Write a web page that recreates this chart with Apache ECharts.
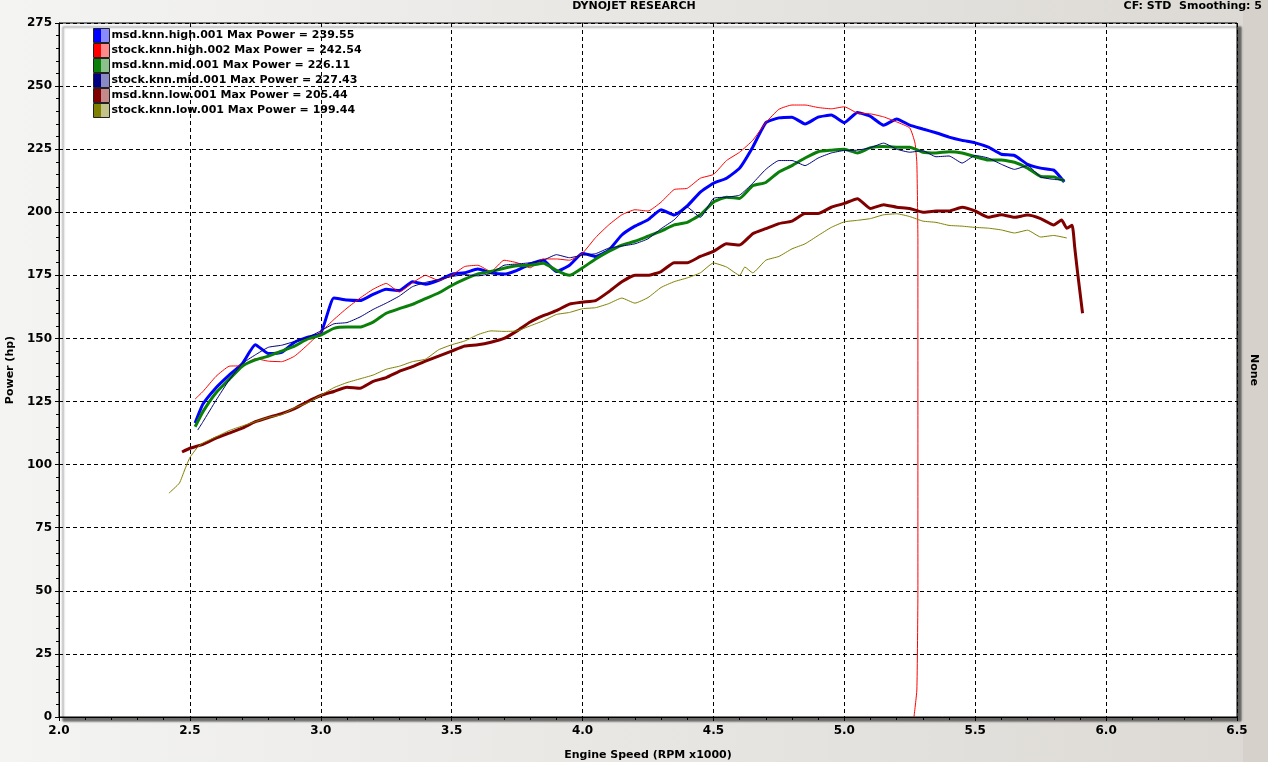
<!DOCTYPE html>
<html>
<head>
<meta charset="utf-8">
<script src="https://cdn.jsdelivr.net/npm/echarts@6/dist/echarts.min.js"></script>
<style>
html,body{margin:0;padding:0;width:1268px;height:762px;overflow:hidden;background:linear-gradient(to right,#f4f4f3,#dcd9d4);}
#chart{width:1268px;height:762px;}
</style>
</head>
<body>
<div id="chart"></div>
<script>
// ---- data (RPM x1000, hp) ----
const runNames = ['msd.knn.high.001','stock.knn.high.002','msd.knn.mid.001','stock.knn.mid.001','msd.knn.low.001','stock.knn.low.001'];
const maxPower = ['239.55','242.54','226.11','227.43','205.44','199.44'];

const msdHigh = [[2.52,116.5],[2.55,124],[2.6,130.5],[2.65,135.5],[2.7,140],[2.75,147.5],[2.8,144],[2.85,144.5],[2.9,148.5],[2.95,150.5],[3.0,152],[3.05,166],[3.1,165.2],[3.15,165],[3.2,167.5],[3.25,169.5],[3.3,169],[3.35,172.5],[3.4,171.5],[3.45,173],[3.5,175.5],[3.55,176],[3.6,177.5],[3.65,176],[3.7,175.5],[3.75,177],[3.8,179.5],[3.85,181],[3.9,176.5],[3.95,179],[4.0,183.8],[4.05,182.5],[4.1,185],[4.15,191],[4.2,194.5],[4.25,197],[4.3,201],[4.35,198.9],[4.4,202.5],[4.45,208],[4.5,211.5],[4.55,213.5],[4.6,217.5],[4.65,225.8],[4.7,235.5],[4.75,237.4],[4.8,237.7],[4.85,235],[4.9,237.7],[4.95,238.5],[5.0,235.5],[5.05,239.5],[5.1,238],[5.15,234.5],[5.2,237],[5.25,234.5],[5.3,233],[5.35,231.5],[5.4,229.8],[5.45,228.5],[5.5,227.5],[5.55,225.8],[5.6,223],[5.65,222.5],[5.7,219],[5.75,217.5],[5.8,216.7],[5.84,212]];

const stockHigh = [[2.52,126],[2.55,129],[2.6,135],[2.65,139],[2.7,139.2],[2.75,142],[2.8,141],[2.85,140.8],[2.9,143],[2.95,147.5],[3.0,152.5],[3.05,157.5],[3.1,162],[3.15,166],[3.2,169.5],[3.25,171.8],[3.3,168.4],[3.35,172],[3.4,175],[3.45,173],[3.5,175],[3.55,178.5],[3.6,179],[3.65,176.5],[3.7,181],[3.75,180],[3.8,178],[3.85,181.5],[3.9,181.5],[3.95,181],[4.0,183.8],[4.05,190],[4.1,195],[4.15,199],[4.2,201],[4.25,200.5],[4.3,204],[4.35,209],[4.4,209.5],[4.45,213.5],[4.5,215],[4.55,220.5],[4.6,223.8],[4.65,228.5],[4.7,235.5],[4.75,240.8],[4.8,242.5],[4.85,242.5],[4.9,241.5],[4.95,241],[5.0,241.8],[5.05,239.3],[5.1,239],[5.15,237.8],[5.2,235.8],[5.25,233.4],[5.27,227.4],[5.277,219.5],[5.281,189],[5.281,50],[5.277,10.7],[5.266,0]];

const msdMid = [[2.52,115],[2.55,121],[2.6,128.5],[2.65,133.8],[2.7,139],[2.75,141.5],[2.8,143],[2.85,145],[2.9,147],[2.95,149.8],[3.0,151.3],[3.05,154],[3.1,154.5],[3.15,154.5],[3.2,156.5],[3.25,160],[3.3,161.8],[3.35,163.5],[3.4,165.8],[3.45,168],[3.5,171],[3.55,173.5],[3.6,175.6],[3.65,176.5],[3.7,177.8],[3.75,178.8],[3.8,179],[3.85,179.8],[3.9,177],[3.95,175],[4.0,178],[4.05,181.5],[4.1,184.5],[4.15,187],[4.2,188.5],[4.25,190.5],[4.3,192.5],[4.35,195],[4.4,196],[4.45,199],[4.5,204],[4.55,206],[4.6,205.5],[4.65,210.5],[4.7,211.8],[4.75,216],[4.8,218.5],[4.85,221.5],[4.9,224],[4.95,224.6],[5.0,225],[5.05,223.5],[5.1,225.6],[5.15,226.1],[5.2,225.8],[5.25,225.8],[5.3,223.8],[5.35,223.5],[5.4,224],[5.45,223.5],[5.5,222],[5.55,220.7],[5.6,220.7],[5.65,219.8],[5.7,217.5],[5.75,214.2],[5.8,214],[5.84,212.5]];

const stockMid = [[2.53,113.7],[2.55,117],[2.6,125.5],[2.65,133.5],[2.7,140],[2.75,143.5],[2.8,146.5],[2.85,147.3],[2.9,148.8],[2.95,150.4],[3.0,153],[3.05,155.8],[3.1,156.3],[3.15,158.5],[3.2,161.5],[3.25,164],[3.3,166.8],[3.35,170.5],[3.4,172.2],[3.45,173.3],[3.5,174.5],[3.55,175.3],[3.6,174.8],[3.65,175.8],[3.7,179],[3.75,179.5],[3.8,180],[3.85,181],[3.9,183.2],[3.95,182],[4.0,183],[4.05,183.6],[4.1,185.8],[4.15,186.6],[4.2,187.5],[4.25,189.5],[4.3,193.5],[4.35,197],[4.4,202],[4.45,198],[4.5,205.5],[4.55,206],[4.6,206.8],[4.65,211.5],[4.7,217],[4.75,220.5],[4.8,220.5],[4.85,218.5],[4.9,221.5],[4.95,223.5],[5.0,224.5],[5.05,224.6],[5.1,225.6],[5.15,227.4],[5.2,225],[5.25,223.8],[5.3,224.4],[5.35,222],[5.4,222.3],[5.45,219.5],[5.5,222.5],[5.55,221.5],[5.6,219],[5.65,217],[5.7,218.5],[5.75,214],[5.8,213],[5.84,212.8]];

const msdLow = [[2.47,105],[2.5,106.5],[2.55,108],[2.6,110.5],[2.65,112.5],[2.7,114.5],[2.75,117],[2.8,118.7],[2.85,120.2],[2.9,122.2],[2.95,125],[3.0,127.4],[3.05,129],[3.1,130.7],[3.15,130.3],[3.2,133],[3.25,134.5],[3.3,137],[3.35,138.8],[3.4,141],[3.45,143],[3.5,145],[3.55,147],[3.6,147.5],[3.65,148.5],[3.7,150],[3.75,153],[3.8,156.5],[3.85,159],[3.9,161],[3.95,163.6],[4.0,164.4],[4.05,165],[4.1,168.5],[4.15,172.5],[4.2,175],[4.25,175],[4.3,176.5],[4.35,180],[4.4,180],[4.45,182.5],[4.5,184.5],[4.55,187.5],[4.6,187],[4.65,191.5],[4.7,193.5],[4.75,195.5],[4.8,196.5],[4.85,199.5],[4.9,199.5],[4.95,202],[5.0,203.5],[5.05,205.4],[5.1,201.5],[5.15,203],[5.2,202],[5.25,201.5],[5.3,200],[5.35,200.5],[5.4,200.5],[5.45,202],[5.5,200.5],[5.55,198],[5.6,199],[5.65,198],[5.7,198.9],[5.75,197.5],[5.8,195],[5.83,196.9],[5.85,193.7],[5.87,194.9],[5.88,186.2],[5.89,177],[5.91,160]];

const stockLow = [[2.42,88.7],[2.46,92.7],[2.48,97.9],[2.5,102.8],[2.53,107],[2.55,108.6],[2.6,111],[2.65,113.5],[2.7,115.3],[2.75,117],[2.8,118.7],[2.85,119.8],[2.9,122.5],[2.95,124.5],[3.0,127.5],[3.05,130.5],[3.1,132.5],[3.15,134],[3.2,135.5],[3.25,137.8],[3.3,139],[3.35,140.8],[3.4,141.8],[3.45,145.5],[3.5,147.5],[3.55,149],[3.6,151.5],[3.65,153],[3.7,152.8],[3.75,153],[3.8,155],[3.85,157],[3.9,159.5],[3.95,160.3],[4.0,161.8],[4.05,162.2],[4.1,163.8],[4.15,166],[4.2,164],[4.25,166.2],[4.3,170.2],[4.35,172.5],[4.4,174],[4.45,176],[4.5,179.9],[4.55,178.3],[4.6,175],[4.62,178.3],[4.65,176],[4.7,181],[4.75,182.5],[4.8,185.5],[4.85,187.5],[4.9,190.8],[4.95,194],[5.0,196.2],[5.05,196.8],[5.1,197.5],[5.15,199],[5.2,199.4],[5.25,198.3],[5.3,196.5],[5.35,196],[5.4,194.8],[5.45,194.5],[5.5,194],[5.55,193.7],[5.6,193],[5.65,191.8],[5.7,192.9],[5.75,190.2],[5.8,190.8],[5.85,189.8]];

const runData = [msdHigh, stockHigh, msdMid, stockMid, msdLow, stockLow];

// ---- styles ----
const lineColors = ['#0000ff','#ff0000','#0a800a','#000080','#800000','#808000'];
const lightColors = ['#8a8aff','#ff8a8a','#8ac08a','#8a8ac4','#c48a8a','#c4c48a'];
const lineWidths = [3,1,3,1,3,1];

const chart = echarts.init(document.getElementById('chart'), null, {renderer:'canvas'});
const FONT = 'DejaVu Sans';

const series = runNames.map((n,i)=>({
  name:n, type:'line', data:runData[i], showSymbol:false, symbol:'none',
  smooth:0.15, animation:false,
  lineStyle:{color:lineColors[i], width:lineWidths[i]},
  itemStyle:{color:lineColors[i]},
  z: 3 + i
}));

const legendData = runNames.map((n,i)=>({
  name:n,
  icon:'rect',
  itemStyle:{
    color:new echarts.graphic.LinearGradient(0,0,1,0,[
      {offset:0,color:lineColors[i]},{offset:0.5,color:lineColors[i]},
      {offset:0.5,color:lightColors[i]},{offset:1,color:lightColors[i]}]),
    borderColor:'#222', borderWidth:1
  }
}));

chart.setOption({
  animation:false,
  backgroundColor:'transparent',
  textStyle:{fontFamily:FONT},
  grid:{left:59,right:31,top:23,bottom:45,containLabel:false,outerBoundsMode:'none',show:true,backgroundColor:'#ffffff',
        borderColor:'#000',borderWidth:1,shadowColor:'rgba(0,0,0,0.55)',shadowBlur:2,shadowOffsetX:4,shadowOffsetY:4},
  legend:{
    data:legendData, orient:'vertical', left:93, top:28,
    itemWidth:16, itemHeight:14, itemGap:0, padding:0,
    selectedMode:false,
    formatter:(name)=>name+' Max Power = '+maxPower[runNames.indexOf(name)],
    textStyle:{fontFamily:FONT,fontWeight:'bold',fontSize:11,lineHeight:13,color:'#000',padding:[0,0,0,-3]}
  },
  xAxis:{
    type:'value', min:2.0, max:6.5, interval:0.5,
    name:'Engine Speed (RPM x1000)', nameLocation:'middle', nameGap:33,
    nameTextStyle:{fontFamily:FONT,fontWeight:'bold',fontSize:11,color:'#000'},
    axisLine:{show:true,onZero:false,lineStyle:{color:'#000',width:1}},
    axisTick:{show:true,length:4,lineStyle:{color:'#000'}},
    minorTick:{show:true,splitNumber:5,length:3,lineStyle:{color:'#000'}},
    axisLabel:{formatter:(v)=>v.toFixed(1),fontFamily:FONT,fontWeight:'bold',fontSize:12,color:'#000',margin:8},
    splitLine:{show:true,lineStyle:{color:'#000',type:[4,3],width:1}}
  },
  yAxis:{
    type:'value', min:0, max:275, interval:25,
    name:'Power (hp)', nameLocation:'middle', nameGap:40,
    nameTextStyle:{fontFamily:FONT,fontWeight:'bold',fontSize:11,color:'#000'},
    axisLine:{show:true,lineStyle:{color:'#000',width:1}},
    axisTick:{show:true,length:4,lineStyle:{color:'#000'}},
    minorTick:{show:true,splitNumber:5,length:3,lineStyle:{color:'#000'}},
    axisLabel:{fontFamily:FONT,fontWeight:'bold',fontSize:12,color:'#000',margin:7},
    splitLine:{show:true,lineStyle:{color:'#000',type:[4,3],width:1}}
  },
  graphic:[
    {type:'rect',left:1243,top:0,shape:{width:25,height:762},style:{fill:'#d6d2cb'},z:-1},
    {type:'text',x:634,y:6,style:{text:'DYNOJET RESEARCH',font:'bold 11px "DejaVu Sans"',fill:'#000',align:'center',verticalAlign:'middle',textAlign:'center',textVerticalAlign:'middle'}},
    {type:'text',x:1262,y:6,style:{text:'CF: STD  Smoothing: 5',font:'bold 11px "DejaVu Sans"',fill:'#000',align:'right',verticalAlign:'middle',textAlign:'right',textVerticalAlign:'middle'}},
    {type:'text',x:1254,y:370,rotation:-Math.PI/2,style:{text:'None',font:'bold 11px "DejaVu Sans"',fill:'#000',align:'center',verticalAlign:'middle',textAlign:'center',textVerticalAlign:'middle'}}
  ],
  series:series
});
</script>
</body>
</html>
